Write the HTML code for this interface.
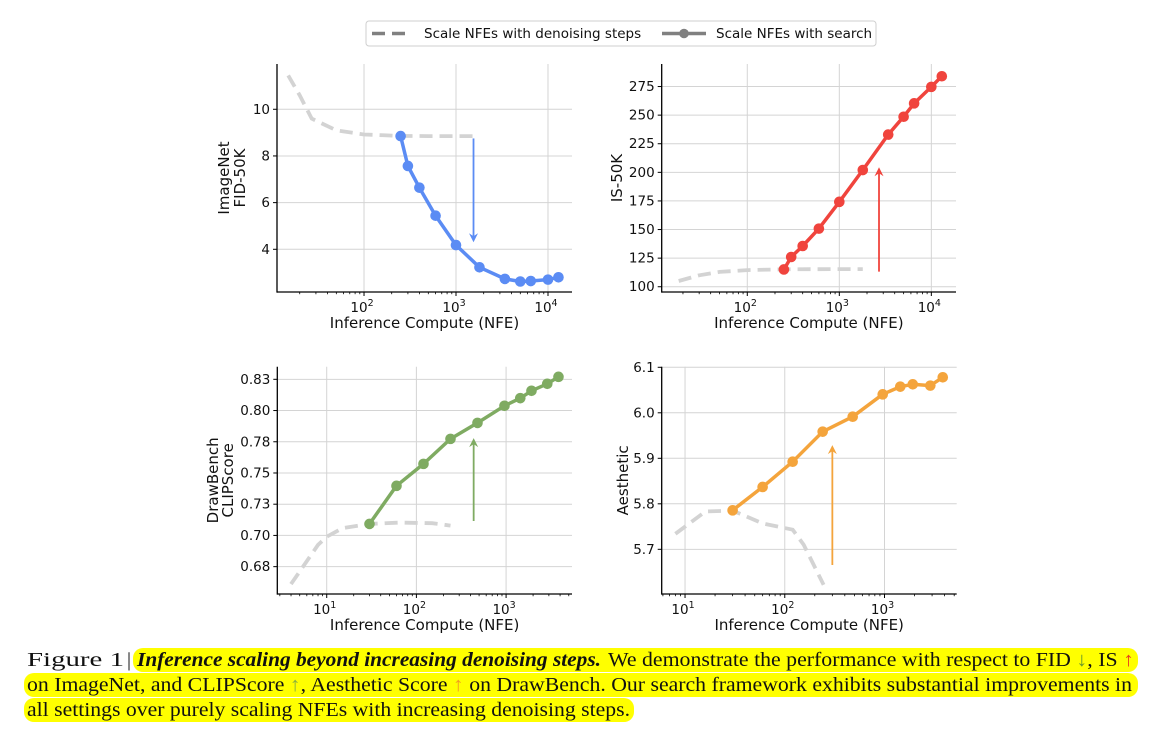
<!DOCTYPE html>
<html><head><meta charset="utf-8"><style>
html,body{margin:0;padding:0;background:#fff;width:1174px;height:738px;overflow:hidden}
svg{display:block}
.tick{font-family:"DejaVu Sans","Liberation Sans",sans-serif;font-size:13.5px;fill:#111}
.lab{font-family:"DejaVu Sans","Liberation Sans",sans-serif;font-size:15px;fill:#111}
.cap{font-family:"Liberation Serif",serif;font-size:20px;fill:#111}
</style></head><body>
<svg id="fig" width="1174" height="738" viewBox="0 0 1174 738" xmlns="http://www.w3.org/2000/svg">
<g>
<rect x="366" y="21" width="510" height="25" rx="3" fill="#fff" stroke="#cfcfcf"/>
<line x1="372" y1="33.5" x2="412" y2="33.5" stroke="#808080" stroke-width="3.5" stroke-dasharray="13,7"/>
<text class="tick" x="424" y="38">Scale NFEs with denoising steps</text>
<line x1="662" y1="33.5" x2="706" y2="33.5" stroke="#808080" stroke-width="3.5"/>
<circle cx="684" cy="33.5" r="4.8" fill="#808080"/>
<text class="tick" x="716" y="38">Scale NFEs with search</text>
</g>
<g id="charts"></g>
<g>
<rect x="133" y="648" width="1005" height="24" rx="10" fill="#ffff00"/>
<rect x="24" y="673" width="1114" height="24" rx="10" fill="#ffff00"/>
<rect x="24" y="698" width="610" height="24" rx="10" fill="#ffff00"/>
<text class="cap" x="27" y="666" textLength="97" lengthAdjust="spacingAndGlyphs">Figure 1</text>
<text class="cap" x="127" y="666">|</text>
<text class="cap" x="137" y="666" font-weight="bold" font-style="italic" textLength="464" lengthAdjust="spacingAndGlyphs">Inference scaling beyond increasing denoising steps.</text>
<text class="cap" x="608" y="666" textLength="526" lengthAdjust="spacingAndGlyphs">We demonstrate the performance with respect to FID <tspan fill="#6a9a2a">↓</tspan>, IS <tspan fill="#e8401c">↑</tspan></text>
<text class="cap" x="27" y="691" textLength="1105" lengthAdjust="spacingAndGlyphs">on ImageNet, and CLIPScore <tspan fill="#8ab040">↑</tspan>, Aesthetic Score <tspan fill="#f0a020">↑</tspan> on DrawBench. Our search framework exhibits substantial improvements in</text>
<text class="cap" x="27" y="716" textLength="603" lengthAdjust="spacingAndGlyphs">all settings over purely scaling NFEs with increasing denoising steps.</text>
</g>
</svg>
<script>
// ---- data ----
const nfeSearchImageNet = [250, 300, 400, 600, 1000, 1800, 3400, 5000, 6500, 10000, 13000];
const fidSearch = [8.85, 7.57, 6.64, 5.44, 4.18, 3.23, 2.73, 2.62, 2.64, 2.70, 2.80];
const isSearch = [115.1, 126, 135.6, 150.8, 174.2, 202, 233, 248.6, 260.3, 274.7, 284];
const nfeDenoiseFid = [15, 20, 27, 50, 100, 250, 500, 1000, 1800];
const fidDenoise = [11.45, 10.6, 9.6, 9.1, 8.92, 8.86, 8.85, 8.85, 8.85];
const nfeDenoiseIs = [18, 30, 50, 100, 250, 500, 1000, 1800];
const isDenoise = [105, 110, 113, 114.5, 115.2, 115.3, 115.4, 115.4];
const nfeSearchDraw = [30, 60, 120, 240, 480, 960, 1440, 1920, 2880, 3840];
const clipSearch = [0.7092, 0.7397, 0.7573, 0.7773, 0.7901, 0.8038, 0.8099, 0.8158, 0.8214, 0.827];
const aesSearch = [5.7857, 5.837, 5.8925, 5.9585, 5.9914, 6.0406, 6.0574, 6.0626, 6.0597, 6.078];
const nfeDenoiseClip = [4, 8, 10, 15, 30, 66, 150, 240];
const clipDenoise = [0.661, 0.6924, 0.699, 0.7058, 0.7092, 0.7103, 0.7098, 0.7079];
const nfeDenoiseAes = [8, 16, 30, 60, 120, 155, 245];
const aesDenoise = [5.734, 5.783, 5.785, 5.757, 5.743, 5.71, 5.622];
const fidTicks = [4, 6, 8, 10];
const fidTickLabels = ["4", "6", "8", "10"];
const isTicks = [100, 125, 150, 175, 200, 225, 250, 275];
const isTickLabels = ["100", "125", "150", "175", "200", "225", "250", "275"];
const clipTicks = [0.675, 0.7, 0.725, 0.75, 0.775, 0.8, 0.825];
const clipTickLabels = ["0.68", "0.70", "0.73", "0.75", "0.78", "0.80", "0.83"];
const aesTicks = [5.7, 5.8, 5.9, 6.0, 6.1];
const aesTickLabels = ["5.7", "5.8", "5.9", "6.0", "6.1"];
const fidArrow = [1550, 8.75, 4.3];
const isArrow = [2700, 113.2, 204.4];
const clipArrow = [435, 0.7116, 0.7779];
const aesArrow = [300, 5.6655, 5.929];

const NS = "http://www.w3.org/2000/svg";
const root = document.getElementById('charts');
function el(tag, attrs, parent) {
  const e = document.createElementNS(NS, tag);
  for (const k in attrs) e.setAttribute(k, attrs[k]);
  parent.appendChild(e);
  return e;
}
function chart(cfg) {
  const g = el('g', {}, root);
  
  
  const sx = v => cfg.x0 + (Math.log10(v) - cfg.lx0) / (cfg.lx1 - cfg.lx0) * (cfg.x1 - cfg.x0);
  const sy = v => cfg.y1 - (v - cfg.vy0) / (cfg.vy1 - cfg.vy0) * (cfg.y1 - cfg.y0);
  for (let d = Math.ceil(cfg.lx0); d <= cfg.lx1; d++) {
    const px = sx(Math.pow(10, d));
    el('line', {x1: px, x2: px, y1: cfg.y0, y2: cfg.y1, stroke: '#d4d4d4', 'stroke-width': 1}, g);
    el('line', {x1: px, x2: px, y1: cfg.y1, y2: cfg.y1 + 4, stroke: '#000', 'stroke-width': 1}, g);
    const t = el('text', {x: px - 2, y: cfg.y1 + 20, 'text-anchor': 'middle', class: 'tick'}, g);
    
    
    t.textContent = '10';
    const s = el('tspan', {dy: -6, 'font-size': '9.5px'}, t);
    s.textContent = String(d);
  }
  for (let d = Math.floor(cfg.lx0); d <= cfg.lx1; d++) {
    for (let m = 2; m <= 9; m++) {
      const lv = d + Math.log10(m);
      if (lv < cfg.lx0 || lv > cfg.lx1) continue;
      const px = sx(Math.pow(10, lv));
      el('line', {x1: px, x2: px, y1: cfg.y1, y2: cfg.y1 + 2.2, stroke: '#000', 'stroke-width': 0.8}, g);
    }
  }
  cfg.ticks.forEach((v, i) => {
    const py = sy(v);
    el('line', {x1: cfg.x0, x2: cfg.x1, y1: py, y2: py, stroke: '#d4d4d4', 'stroke-width': 1}, g);
    el('line', {x1: cfg.x0 - 4, x2: cfg.x0, y1: py, y2: py, stroke: '#000', 'stroke-width': 1}, g);
    const t = el('text', {x: cfg.x0 - 7, y: py + 4.5, 'text-anchor': 'end', class: 'tick'}, g);
    
    
    t.textContent = cfg.tickLabels[i];
  });
  el('line', {x1: cfg.x0, x2: cfg.x0, y1: cfg.y0, y2: cfg.y1 + 0.6, stroke: '#000', 'stroke-width': 1.3}, g);
  el('line', {x1: cfg.x0, x2: cfg.x1, y1: cfg.y1, y2: cfg.y1, stroke: '#000', 'stroke-width': 1.3}, g);
  const xl = el('text', {x: (cfg.x0 + cfg.x1) / 2, y: cfg.y1 + 36, 'text-anchor': 'middle', class: 'lab'}, g);
  
  
  xl.textContent = 'Inference Compute (NFE)';
  const cy = (cfg.y0 + cfg.y1) / 2;
  cfg.ylab.forEach((s, i) => {
    const xx = cfg.ylabX[i];
    const t = el('text', {x: xx, y: cy, 'text-anchor': 'middle', class: 'lab', transform: `rotate(-90 ${xx} ${cy})`, dy: 5}, g);
    
    
    t.textContent = s;
  });
  const dp = cfg.dx.map((v, i) => sx(v).toFixed(1) + ',' + sy(cfg.dy[i]).toFixed(1)).join(' ');
  const dl = el('polyline', {points: dp, fill: 'none', stroke: '#d3d3d3', 'stroke-width': 3.8, 'stroke-dasharray': '13,7'}, g);
  
  
  const ax = sx(cfg.arrow[0]), ay0 = sy(cfg.arrow[1]), ay1 = sy(cfg.arrow[2]);
  const dir = ay1 > ay0 ? 1 : -1;
  const ag = el('g', {}, g);
  
  
  el('line', {x1: ax, x2: ax, y1: ay0, y2: ay1 - dir * 4, stroke: cfg.color, 'stroke-width': 1.8}, ag);
  el('path', {d: `M${ax - 4.5},${ay1 - dir * 9} L${ax},${ay1} L${ax + 4.5},${ay1 - dir * 9} L${ax},${ay1 - dir * 6} Z`, fill: cfg.color}, ag);
  const sp = cfg.sxv.map((v, i) => sx(v).toFixed(1) + ',' + sy(cfg.syv[i]).toFixed(1)).join(' ');
  const sl = el('polyline', {points: sp, fill: 'none', stroke: cfg.color, 'stroke-width': 3.5, 'stroke-linejoin': 'round'}, g);
  
  
  cfg.sxv.forEach((v, i) => {
    const c = el('circle', {cx: sx(v), cy: sy(cfg.syv[i]), r: 5.3, fill: cfg.color}, g);
    
    
  });
}
chart({name: 'fid-chart', x0: 277, x1: 572, y0: 64, y1: 292, lx0: 1.054, lx1: 4.261, vy0: 2.17, vy1: 11.94,
  ticks: fidTicks, tickLabels: fidTickLabels, ylab: ['ImageNet', 'FID-50K'], ylabX: [224, 240],
  dx: nfeDenoiseFid, dy: fidDenoise, sxv: nfeSearchImageNet, syv: fidSearch, color: '#5b8cf4', arrow: fidArrow});
chart({name: 'is-chart', x0: 661.7, x1: 956, y0: 64, y1: 292, lx0: 1.070, lx1: 4.268, vy0: 95.4, vy1: 294.7,
  ticks: isTicks, tickLabels: isTickLabels, ylab: ['IS-50K'], ylabX: [617],
  dx: nfeDenoiseIs, dy: isDenoise, sxv: nfeSearchImageNet, syv: isSearch, color: '#f0443d', arrow: isArrow});
chart({name: 'clipscore-chart', x0: 277.3, x1: 572, y0: 366.7, y1: 594, lx0: 0.449, lx1: 3.735, vy0: 0.6531, vy1: 0.8351,
  ticks: clipTicks, tickLabels: clipTickLabels, ylab: ['DrawBench', 'CLIPScore'], ylabX: [213, 228],
  dx: nfeDenoiseClip, dy: clipDenoise, sxv: nfeSearchDraw, syv: clipSearch, color: '#7fab62', arrow: clipArrow});
chart({name: 'aesthetic-chart', x0: 661.7, x1: 956.7, y0: 366.7, y1: 594, lx0: 0.766, lx1: 3.724, vy0: 5.6018, vy1: 6.1013,
  ticks: aesTicks, tickLabels: aesTickLabels, ylab: ['Aesthetic'], ylabX: [623],
  dx: nfeDenoiseAes, dy: aesDenoise, sxv: nfeSearchDraw, syv: aesSearch, color: '#f4a43c', arrow: aesArrow});
</script>
</body></html>
